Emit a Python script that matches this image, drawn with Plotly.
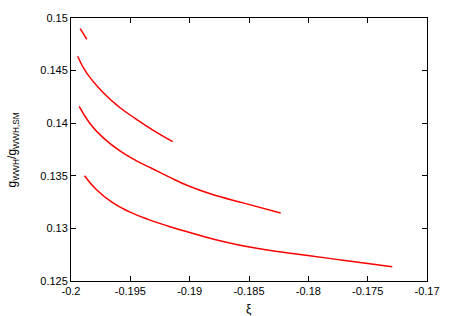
import plotly.graph_objs as go

# curves (xi, g_WWH / g_WWH,SM)
xi_1 = [-0.19923, -0.19895, -0.19867]
g_1 = [0.14900, 0.14849, 0.14798]

xi_2 = [-0.19944, -0.19870, -0.19732, -0.19594, -0.19455, -0.19317, -0.19143]
g_2 = [0.14636, 0.14480, 0.14294, 0.14154, 0.14042, 0.13939, 0.13825]

xi_3 = [-0.19931, -0.19842, -0.19732, -0.19594, -0.19455, -0.19317, -0.19179,
        -0.19013, -0.18820, -0.18543, -0.18233]
g_3 = [0.14160, 0.14000, 0.13865, 0.13741, 0.13647, 0.13569, 0.13492,
       0.13405, 0.13327, 0.13240, 0.13146]

xi_4 = [-0.19886, -0.19787, -0.19649, -0.19511, -0.19351, -0.19179, -0.19013,
        -0.18737, -0.18460, -0.18184, -0.17824, -0.17547, -0.17293]
g_4 = [0.13501, 0.13370, 0.13244, 0.13160, 0.13086, 0.13021, 0.12965,
       0.12881, 0.12815, 0.12769, 0.12715, 0.12674, 0.12636]

x_ticks = [-0.2, -0.195, -0.19, -0.185, -0.18, -0.175, -0.17]
x_labels = ["-0.2", "-0.195", "-0.19", "-0.185", "-0.18", "-0.175", "-0.17"]
y_ticks = [0.125, 0.13, 0.135, 0.14, 0.145, 0.15]
y_labels = ["0.125", "0.13", "0.135", "0.14", "0.145", "0.15"]

fig = go.Figure()
for xs, ys in [(xi_1, g_1), (xi_2, g_2), (xi_3, g_3), (xi_4, g_4)]:
    fig.add_trace(go.Scatter(x=xs, y=ys, mode="lines",
                             line=dict(color="#ff0000", width=1.5,
                                       shape="spline", smoothing=1.3),
                             showlegend=False, hoverinfo="skip"))

axis = dict(showgrid=False, zeroline=False, showline=True, mirror="ticks",
            linecolor="#000000", linewidth=1, ticks="inside", ticklen=5,
            tickcolor="#000000", tickwidth=1,
            tickfont=dict(family="Liberation Sans", size=11, color="#000000"))

fig.update_layout(
    width=452, height=316,
    margin=dict(l=71, r=19, t=13, b=35),
    paper_bgcolor="white", plot_bgcolor="white",
    xaxis=dict(axis, range=[-0.2, -0.17], tickvals=x_ticks, ticktext=x_labels),
    yaxis=dict(axis, range=[0.125, 0.15], tickvals=y_ticks, ticktext=y_labels),
    annotations=[
        dict(text="ξ", xref="paper", yref="paper", x=0.5, y=-0.072,
             xanchor="center", yanchor="top", showarrow=False,
             font=dict(family="Liberation Sans", size=12, color="#000000")),
        dict(text="g<sub>WWH</sub>/g<sub>WWH,SM</sub>", xref="paper", yref="paper",
             x=-0.163, y=0.5, xanchor="center", yanchor="middle", textangle=-90,
             showarrow=False,
             font=dict(family="Liberation Sans", size=12, color="#000000")),
    ],
)

# drop the default body margin so the figure sits at the window's corner
fig.write_html("out.html", config={"displayModeBar": False},
               post_script="document.body.style.margin = '0';")
